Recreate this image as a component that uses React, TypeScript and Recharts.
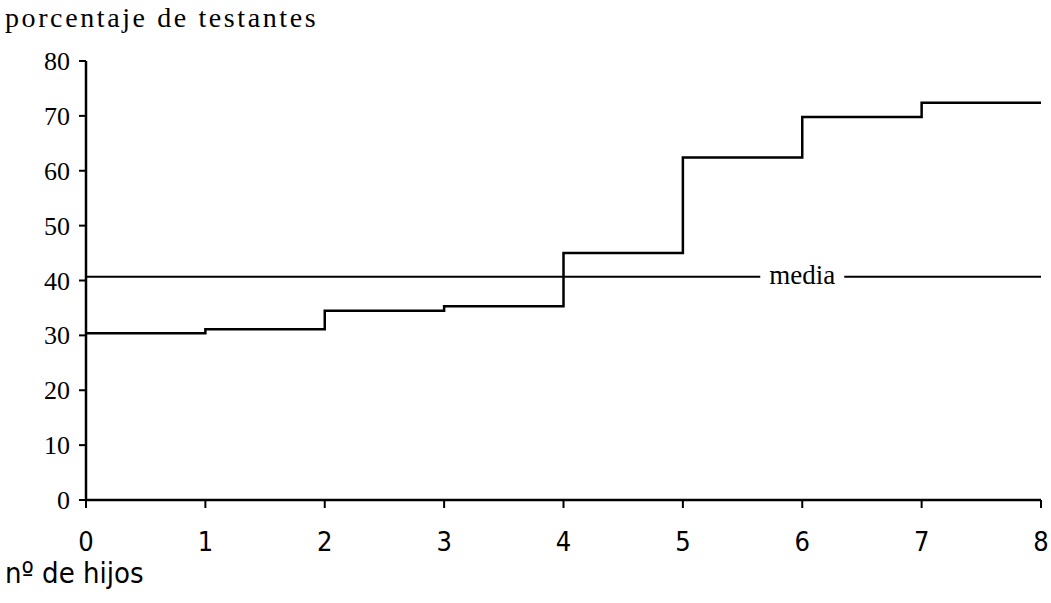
import React from 'react';
import { LineChart, Line, XAxis, YAxis, ReferenceLine } from 'recharts';

// nº de hijos and porcentaje de testantes (step value from each x onward)
const hijos = [0, 1, 2, 3, 4, 5, 6, 7, 8];
const porcentaje = [30.4, 31.1, 34.5, 35.3, 45.0, 62.4, 69.8, 72.4, 72.4];
const media = 40.7;
const yTicks = [0, 10, 20, 30, 40, 50, 60, 70, 80];

const data = hijos.map((h, i) => ({ hijos: h, pct: porcentaje[i] }));

const SERIF = '"Liberation Serif", "Times New Roman", serif';
const NARROW = '"Liberation Sans Narrow", "DejaVu Sans Condensed", sans-serif';

function MediaLabel(props: any) {
  const vb = props.viewBox || {};
  const cx = vb.x + vb.width * 0.75;
  const cy = vb.y;
  return (
    <g>
      <rect x={cx - 42} y={cy - 6} width={84} height={12} fill="#fff" />
      <text x={cx} y={cy} dy={7} textAnchor="middle" fontFamily={SERIF} fontSize={27} fill="#000">
        media
      </text>
    </g>
  );
}

function YTick(props: any) {
  const { x, y, payload } = props;
  return (
    <text x={x} y={y} dy={9} textAnchor="end" fontFamily={SERIF} fontSize={26} fill="#000">
      {payload.value}
    </text>
  );
}

export default function App() {
  return (
    <div style={{ position: 'absolute', left: 0, top: 0, width: 1051, height: 603, background: '#fff' }}>
      <div
        style={{
          position: 'absolute',
          left: 5,
          top: 2,
          fontFamily: SERIF,
          fontSize: 28,
          letterSpacing: 2.6,
          color: '#000',
          whiteSpace: 'nowrap',
        }}
      >
        porcentaje de testantes
      </div>
      <div
        style={{
          position: 'absolute',
          left: 5,
          top: 556,
          fontFamily: NARROW,
          fontSize: 29,
          color: '#000',
          whiteSpace: 'nowrap',
        }}
      >
        nº de hijos
      </div>
      <LineChart
        width={1051}
        height={603}
        data={data}
        margin={{ top: 61, right: 10, bottom: 63, left: 26 }}
      >
        <XAxis
          dataKey="hijos"
          type="number"
          domain={[0, 8]}
          ticks={hijos}
          height={40}
          tickSize={8}
          tickMargin={24}
          axisLine={{ stroke: '#000', strokeWidth: 2.5 }}
          tickLine={{ stroke: '#000', strokeWidth: 2 }}
          tick={{ fill: '#000', fontFamily: NARROW, fontSize: 27 }}
        />
        <YAxis
          type="number"
          domain={[0, 80]}
          ticks={yTicks}
          width={60}
          tickSize={7}
          tickMargin={9}
          axisLine={{ stroke: '#000', strokeWidth: 2.5 }}
          tickLine={{ stroke: '#000', strokeWidth: 2 }}
          tick={<YTick />}
        />
        <ReferenceLine y={media} stroke="#000" strokeWidth={2} label={<MediaLabel />} />
        <Line
          type="stepAfter"
          dataKey="pct"
          stroke="#000"
          strokeWidth={2.5}
          dot={false}
          isAnimationActive={false}
        />
      </LineChart>
    </div>
  );
}
